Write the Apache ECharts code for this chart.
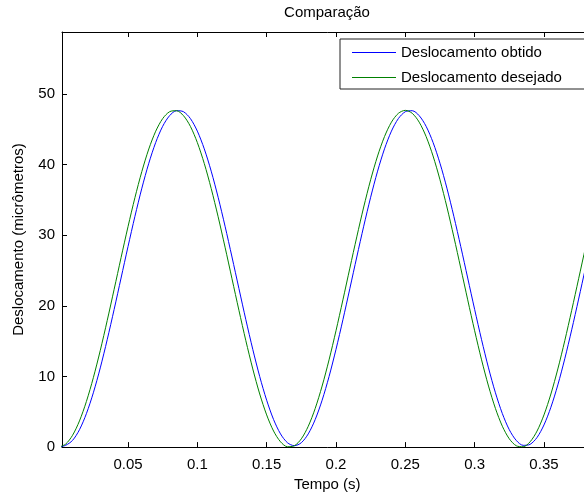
<!DOCTYPE html>
<html>
<head>
<meta charset="utf-8">
<title>Comparação</title>
<script src="https://cdn.jsdelivr.net/npm/echarts@6/dist/echarts.min.js"></script>
<style>
  html, body { margin: 0; padding: 0; background: #fff; overflow: hidden; }
  #chart { width: 620px; height: 497px; }
</style>
</head>
<body>
<div id="chart"></div>
<script>
// Sample times (s)
const tempo = [
  0.000, 0.005, 0.010, 0.015, 0.020, 0.025, 0.030, 0.035, 0.040, 0.045,
  0.050, 0.055, 0.060, 0.065, 0.070, 0.075, 0.080, 0.085, 0.090, 0.095,
  0.100, 0.105, 0.110, 0.115, 0.120, 0.125, 0.130, 0.135, 0.140, 0.145,
  0.150, 0.155, 0.160, 0.165, 0.170, 0.175, 0.180, 0.185, 0.190, 0.195,
  0.200, 0.205, 0.210, 0.215, 0.220, 0.225, 0.230, 0.235, 0.240, 0.245,
  0.250, 0.255, 0.260, 0.265, 0.270, 0.275, 0.280, 0.285, 0.290, 0.295,
  0.300, 0.305, 0.310, 0.315, 0.320, 0.325, 0.330, 0.335, 0.340, 0.345,
  0.350, 0.355, 0.360, 0.365, 0.370, 0.375, 0.380, 0.385, 0.390, 0.395
];

// Measured displacement (micrometres)
const obtido = [
  0.00, 0.25, 0.95, 2.46, 4.74, 7.69, 11.22, 15.21, 19.50, 23.95,
  28.40, 32.69, 36.68, 40.21, 43.16, 45.44, 46.95, 47.65, 47.51, 46.54,
  44.76, 42.25, 39.09, 35.39, 31.29, 26.93, 22.46, 18.04, 13.84, 9.99,
  6.64, 3.90, 1.87, 0.62, 0.20, 0.62, 1.87, 3.90, 6.64, 9.99,
  13.84, 18.04, 22.46, 26.93, 31.29, 35.39, 39.09, 42.25, 44.76, 46.54,
  47.51, 47.65, 46.95, 45.44, 43.16, 40.21, 36.68, 32.69, 28.40, 23.95,
  19.50, 15.21, 11.22, 7.69, 4.74, 2.46, 0.95, 0.25, 0.39, 1.36,
  3.14, 5.65, 8.81, 12.51, 16.61, 20.97, 25.44, 29.86, 34.06, 37.91
];

// Reference displacement (micrometres)
const desejado = [
  0.00, 0.42, 1.67, 3.71, 6.46, 9.83, 13.69, 17.92, 22.35, 26.84,
  31.22, 35.34, 39.05, 42.23, 44.75, 46.53, 47.51, 47.65, 46.95, 45.43,
  43.14, 40.18, 36.63, 32.63, 28.32, 23.85, 19.38, 15.07, 11.07, 7.52,
  4.56, 2.27, 0.75, 0.05, 0.19, 1.17, 2.95, 5.47, 8.65, 12.36,
  16.48, 20.86, 25.35, 29.78, 34.01, 37.87, 41.24, 43.99, 46.03, 47.28,
  47.70, 47.28, 46.03, 43.99, 41.24, 37.87, 34.01, 29.78, 25.35, 20.86,
  16.48, 12.36, 8.65, 5.47, 2.95, 1.17, 0.19, 0.05, 0.75, 2.27,
  4.56, 7.52, 11.07, 15.07, 19.38, 23.85, 28.32, 32.63, 36.63, 40.18
];

const xTicks = [0.05, 0.1, 0.15, 0.2, 0.25, 0.3, 0.35];
const yTicks = [0, 10, 20, 30, 40, 50];
const seriesNames = ['Deslocamento obtido', 'Deslocamento desejado'];

const FONT = 'Liberation Sans, Arial, sans-serif';
const xMin = 0.0024, xMax = 0.385;
const yMin = 0, yMax = 58.8;

// Plain line legend key: a 1px bar across the middle of a 44x14 box
const LEGEND_LINE = 'path://M0,0H0.5V0.01H0Z M0,6.5H44V7.5H0Z M0,13.99H0.5V14H0Z';

const axisLine = { show: true, lineStyle: { color: '#000', width: 1 } };
const tickStyle = { show: true, inside: true, length: 5, lineStyle: { color: '#000', width: 1 } };

const chart = echarts.init(document.getElementById('chart'), null, { renderer: 'canvas' });

chart.setOption({
  backgroundColor: '#fff',
  animation: false,
  title: {
    text: 'Comparação',
    left: 322, top: 0, textAlign: 'center',
    textStyle: { fontFamily: FONT, fontSize: 15, fontWeight: 'normal', color: '#000' }
  },
  legend: {
    orient: 'vertical',
    left: 340, top: 39,
    padding: [6, 24, 4, 12],
    itemGap: 10,
    itemWidth: 44, itemHeight: 14,
    icon: LEGEND_LINE,
    borderColor: '#222', borderWidth: 1,
    backgroundColor: '#fff',
    data: seriesNames,
    textStyle: { fontFamily: FONT, fontSize: 15, color: '#000' }
  },
  grid: { left: 62, top: 32, right: 620 - 592.5, bottom: 497 - 448, containLabel: false },
  xAxis: [
    {
      type: 'value', position: 'bottom', min: xMin, max: xMax,
      name: 'Tempo (s)', nameLocation: 'middle', nameGap: 29,
      nameTextStyle: { fontFamily: FONT, fontSize: 15, color: '#000' },
      axisLine: axisLine,
      axisTick: Object.assign({ customValues: xTicks }, tickStyle),
      axisLabel: {
        customValues: xTicks, margin: 10,
        fontFamily: FONT, fontSize: 15, color: '#000',
        formatter: v => String(+v.toFixed(2))
      },
      splitLine: { show: false }
    },
    {
      type: 'value', position: 'top', min: xMin, max: xMax,
      axisLine: axisLine,
      axisTick: Object.assign({ customValues: xTicks }, tickStyle),
      axisLabel: { show: false },
      splitLine: { show: false }
    }
  ],
  yAxis: [
    {
      type: 'value', position: 'left', min: yMin, max: yMax,
      name: 'Deslocamento (micrômetros)', nameLocation: 'middle', nameGap: 36,
      nameTextStyle: { fontFamily: FONT, fontSize: 15, color: '#000' },
      axisLine: axisLine,
      axisTick: Object.assign({ customValues: yTicks }, tickStyle),
      axisLabel: {
        customValues: yTicks, margin: 7,
        fontFamily: FONT, fontSize: 15, color: '#000'
      },
      splitLine: { show: false }
    }
  ],
  series: [
    {
      name: seriesNames[0], type: 'line', xAxisIndex: 0,
      data: tempo.map((t, i) => [t, obtido[i]]),
      symbol: 'none', smooth: 0.3, clip: true,
      lineStyle: { color: '#0000ff', width: 1 },
      itemStyle: { color: '#0000ff' }
    },
    {
      name: seriesNames[1], type: 'line', xAxisIndex: 0,
      data: tempo.map((t, i) => [t, desejado[i]]),
      symbol: 'none', smooth: 0.3, clip: true,
      lineStyle: { color: '#008000', width: 1 },
      itemStyle: { color: '#008000' }
    }
  ]
});
</script>
</body>
</html>
